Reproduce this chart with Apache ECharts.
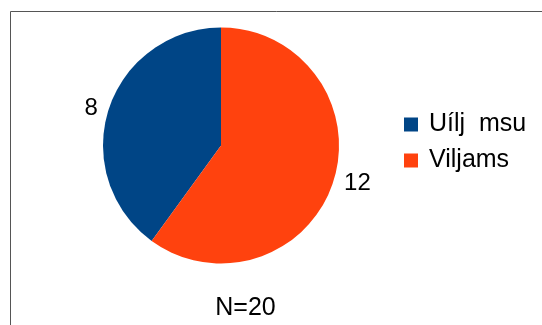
<!DOCTYPE html>
<html>
<head>
<meta charset="utf-8">
<style>
  html, body { margin: 0; padding: 0; background: #fff; }
  #chart { width: 542px; height: 325px; }
</style>
<script src="https://cdn.jsdelivr.net/npm/echarts@6/dist/echarts.min.js"></script>
</head>
<body>
<div id="chart"></div>
<script>
// Respondents by answer
const names = ['Uílj  msu', 'Viljams'];
const values = [8, 12];
const colors = ['#004586', '#ff420e'];
const totalLabel = 'N=20';

const FONT = '"Liberation Sans", Arial, sans-serif';

const chart = echarts.init(document.getElementById('chart'), null, { renderer: 'canvas' });

const pieData = names.map((n, i) => ({
  name: n,
  value: values[i],
  itemStyle: { color: colors[i] }
}));

chart.setOption({
  animation: false,
  backgroundColor: '#fff',
  title: {
    text: totalLabel,
    left: 245.5,
    top: 296,
    textAlign: 'center',
    textStyle: { fontFamily: FONT, fontSize: 25, fontWeight: 'normal', color: '#000' },
    padding: 0
  },
  legend: {
    orient: 'vertical',
    left: 404,
    top: 112,
    itemWidth: 14,
    itemHeight: 14,
    itemGap: 11,
    icon: 'rect',
    data: names,
    textStyle: { fontFamily: FONT, fontSize: 25, color: '#000', lineHeight: 24, padding: [0, 0, 0, 6] },
    padding: 0
  },
  graphic: [{
    // chart frame on top and left edges
    type: 'polyline',
    shape: { points: [[10.5, 330], [10.5, 11.5], [550, 11.5]] },
    style: { stroke: '#555', lineWidth: 1, fill: null },
    silent: true
  }],
  series: [{
    type: 'pie',
    center: [221, 145.5],
    radius: [0, 118],
    startAngle: 90,
    clockwise: false,
    avoidLabelOverlap: false,
    data: pieData,
    label: {
      show: true,
      position: 'outside',
      formatter: '{c}',
      fontFamily: FONT,
      fontSize: 24,
      color: '#000'
    },
    labelLine: { show: false, length: 3, length2: 3 },
    itemStyle: { borderWidth: 0 },
    emphasis: { disabled: true }
  }]
});
</script>
</body>
</html>
